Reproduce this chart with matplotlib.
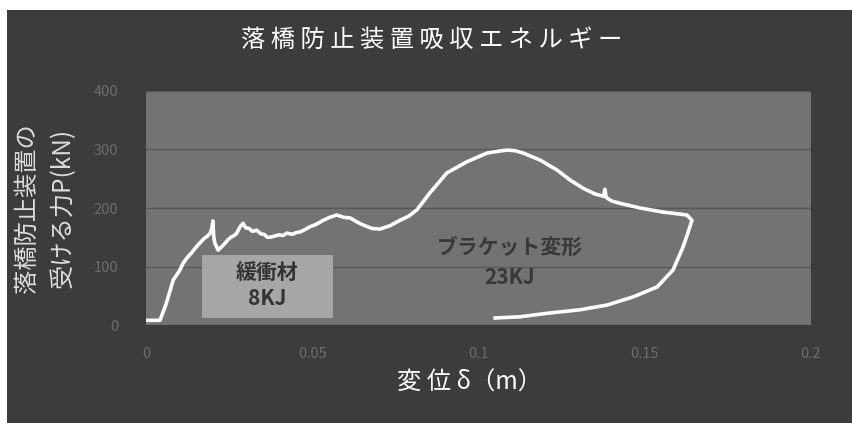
import numpy as np
import matplotlib.pyplot as plt
from matplotlib.patches import Rectangle

plt.rcParams['font.family'] = ['Noto Sans CJK JP', 'DejaVu Sans']

# displacement (m) and force (kN)
delta = [0.0002, 0.0042, 0.0060, 0.0082, 0.0100, 0.0112, 0.0125, 0.0135, 0.0152, 0.0165,
         0.0175, 0.0185, 0.0193, 0.0198, 0.0201, 0.0204, 0.0207, 0.0217, 0.0228, 0.0238,
         0.0247, 0.0255, 0.0265, 0.0273, 0.0283, 0.0292, 0.0300, 0.0310, 0.0320, 0.0333,
         0.0345, 0.0355, 0.0365, 0.0373, 0.0387, 0.0400, 0.0412, 0.0424, 0.0440, 0.0452,
         0.0463, 0.0478, 0.0493, 0.0512, 0.0533, 0.0552, 0.0574, 0.0595, 0.0614, 0.0635,
         0.0653, 0.0680, 0.0704, 0.0735, 0.0764, 0.0790, 0.0815, 0.0854, 0.0905, 0.0965,
         0.1026, 0.1060, 0.1086, 0.1110, 0.1134, 0.1185, 0.1236, 0.1275, 0.1314, 0.1350,
         0.1376, 0.1380, 0.1384, 0.1400, 0.1426, 0.1486, 0.1555, 0.1600, 0.1627, 0.1642,
         0.1630, 0.1615, 0.1585, 0.1537, 0.1465, 0.1386, 0.1305, 0.1206, 0.1125, 0.1050]
force = [8, 8, 35, 77, 92, 106, 116, 122, 134, 142,
         148, 152, 157, 165, 178, 150, 140, 128, 134, 140,
         146, 150, 153, 157, 168, 174, 166, 165, 160, 162,
         156, 155, 150, 150, 152, 154, 153, 157, 155, 158,
         159, 163, 168, 172, 179, 184, 188, 184, 183, 176,
         171, 165, 164, 170, 179, 186, 197, 226, 260, 279,
         294, 297, 299, 298, 294, 282, 265, 248, 234, 224,
         220, 232, 218, 212, 208, 200, 193, 190, 188, 179,
         158, 133, 94, 65, 48, 34, 26, 20, 14, 12]

x_ticks = [0, 0.05, 0.1, 0.15, 0.2]
x_labels = ['0', '0.05', '0.1', '0.15', '0.2']
y_ticks = [0, 100, 200, 300, 400]

fig = plt.figure(figsize=(8.53, 4.23), dpi=100, facecolor='white')
fig.patches.append(Rectangle((7 / 853, 0), 1, 413 / 423, transform=fig.transFigure,
                             facecolor='#3c3c3c', edgecolor='none', zorder=-5))

ax = fig.add_axes([146 / 853, 98 / 423, 665 / 853, 234 / 423])
ax.set_facecolor('#737373')
ax.set_xlim(0, 0.2)
ax.set_ylim(0, 400)
for s in ax.spines.values():
    s.set_visible(False)

ax.set_xticks(x_ticks)
ax.set_xticklabels(x_labels)
ax.set_yticks(y_ticks)
ax.tick_params(length=0, colors='#6c6c6c', labelsize=10.5, pad=16)
ax.tick_params(axis='y', pad=20)
ax.grid(axis='y', color='#585858', linewidth=1)
ax.set_axisbelow(True)

# cushion box
ax.add_patch(Rectangle((0.0168, 12), 0.0394, 108, facecolor='#a6a6a6',
                       edgecolor='none', zorder=2))
ax.text(0.0365, 90, '緩衝材', ha='center', va='center', fontsize=15,
        fontweight='bold', color='#333333', zorder=3)
ax.text(0.0365, 45, '8KJ', ha='center', va='center', fontsize=15,
        fontweight='bold', color='#333333', zorder=3)

ax.text(0.1095, 133, 'ブラケット変形', ha='center', va='center', fontsize=15,
        fontweight='bold', color='#383838', zorder=3)
ax.text(0.1095, 82, '23KJ', ha='center', va='center', fontsize=15,
        fontweight='bold', color='#383838', zorder=3)

ax.plot(delta, force, color='white', linewidth=2.6, zorder=4)

fig.text(432 / 853, 1 - 40 / 423, '落 橋 防 止 装 置 吸 収 エ ネ ル ギ ー',
         ha='center', va='center', fontsize=17.5, color='white')
fig.text(27 / 853, 1 - 208 / 423, '落橋防止装置の', rotation=90,
         ha='center', va='center', fontsize=17.5, color='#dcdcdc')
fig.text(63 / 853, 1 - 208 / 423, '受ける力P(kN)', rotation=90,
         ha='center', va='center', fontsize=17.5, color='#dcdcdc')
fig.text(470 / 853, 1 - 383 / 423, '変 位 δ（m）', ha='center', va='center',
         fontsize=17.5, color='white')

fig.savefig('out.png', dpi=100, facecolor=fig.get_facecolor())
